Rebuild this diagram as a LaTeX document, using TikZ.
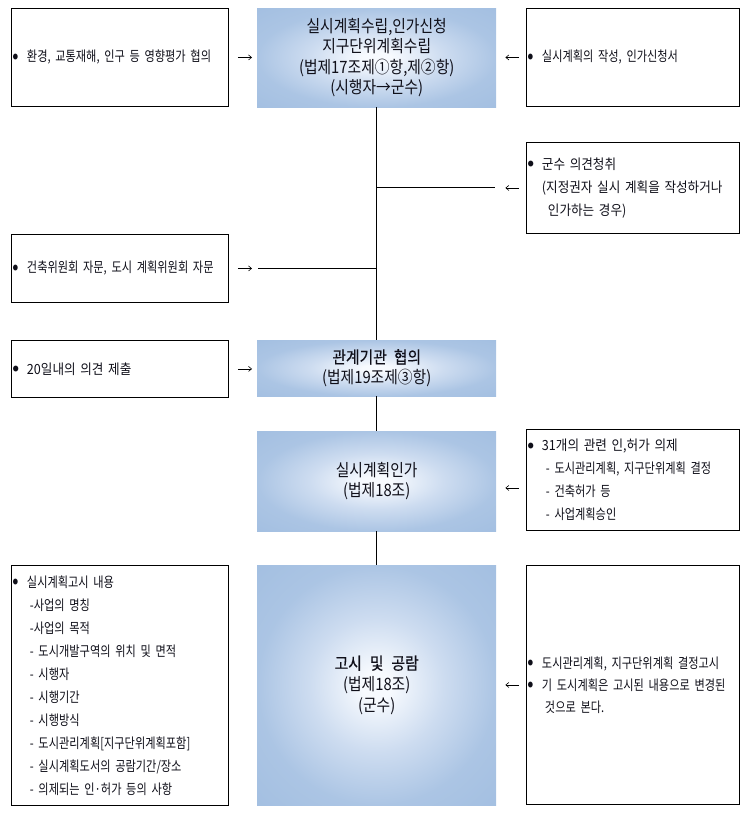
\documentclass[tikz,border=0pt]{standalone}
\usepackage{fontspec}
\usetikzlibrary{calc,arrows.meta}
\newfontfamily\krn[FakeStretch=0.8]{Noto Sans CJK KR}
\newfontfamily\krw[FakeStretch=0.9]{Noto Sans CJK KR}
\newfontfamily\krc[FakeStretch=0.87]{Noto Sans CJK KR}
\newfontfamily\krcb[FakeStretch=0.87,FakeBold=0.5]{Noto Sans CJK KR}
\definecolor{edgeb}{RGB}{163,191,225}
\definecolor{midb}{RGB}{205,220,240}
\definecolor{ctrw}{RGB}{247,250,254}
\definecolor{txt}{RGB}{15,15,25}
\pgfdeclareradialshading{ctrshade}{\pgfpoint{0bp}{0bp}}{color(0bp)=(ctrw); color(3bp)=(ctrw); color(14bp)=(midb); color(25bp)=(edgeb!80!midb); color(36bp)=(edgeb); color(50bp)=(edgeb)}
\newcommand\bul{\makebox[14pt][l]{\raisebox{2.6pt}{\fontsize{6.5}{6.5}\selectfont ●}}}
\begin{document}
\begin{tikzpicture}[x=1pt,y=-1pt,
  sidebox/.style={draw=black, line width=0.9pt, rectangle, anchor=north west,
    inner xsep=1.5pt, inner ysep=0pt, align=left, text=txt,
    font=\krn\fontsize{14}{23}\selectfont},
  lbox/.style={sidebox, text width=214pt},
  rbox/.style={sidebox, text width=210pt},
  ctrbox/.style={rectangle, anchor=north west, inner sep=0pt, shade, shading=ctrshade,
    minimum width=239pt, align=center, text=txt,
    font=\krc\fontsize{17}{20.5}\selectfont},
  conn/.style={line width=1pt},
  garrow/.style={line width=0.6pt, -{Straight Barb[length=3pt,width=5pt]}}]
\useasboundingbox (0,0) rectangle (751,822);

% boxes
\node[lbox, minimum height=98pt] (L1) at (11,8) {\mbox{\bul 환경, 교통재해, 인구 등 영향평가 협의}};
\node[ctrbox, minimum height=99pt] (C1) at (257,8) {실시계획수립,인가신청\\지구단위계획수립\\(법제17조제①항,제②항)\\(시행자→군수)};
\node[rbox, minimum height=98pt] (R1) at (526,8) {\mbox{\bul 실시계획의 작성, 인가신청서}};

\node[rbox, minimum height=91pt, font=\krw\fontsize{14}{23}\selectfont] (R2) at (526,142)
  {\mbox{\bul 군수 의견청취}\\\mbox{\hspace*{14pt}(지정권자 실시 계획을 작성하거나}\\\mbox{\hspace*{20pt}인가하는 경우)}};

\node[lbox, minimum height=68pt] (L2) at (11,234) {\mbox{\bul 건축위원회 자문, 도시 계획위원회 자문}};

\node[lbox, minimum height=57pt, font=\krw\fontsize{14}{23}\selectfont] (L3) at (11,340) {\mbox{\bul 20일내의 의견 제출}};
\node[ctrbox, minimum height=56pt] (C2) at (257,340) {{\krcb 관계기관\hspace{7pt}협의}\\(법제19조제③항)};

\node[ctrbox, minimum height=100pt] (C3) at (257,431) {실시계획인가\\(법제18조)};
\node[rbox, minimum height=101pt] (R3) at (526,429)
  {\mbox{\krw\bul 31개의 관련 인,허가 의제}\\\mbox{\hspace*{18pt}- 도시관리계획, 지구단위계획 결정}\\\mbox{\hspace*{18pt}- 건축허가 등}\\\mbox{\hspace*{18pt}- 사업계획승인}};

\node[lbox, minimum height=240pt] (L4) at (11,565)
  {\mbox{\bul 실시계획고시 내용}\\
   \mbox{\hspace*{17pt}-사업의 명칭}\\
   \mbox{\hspace*{17pt}-사업의 목적}\\
   \mbox{\hspace*{17pt}- 도시개발구역의 위치 및 면적}\\
   \mbox{\hspace*{17pt}- 시행자}\\
   \mbox{\hspace*{17pt}- 시행기간}\\
   \mbox{\hspace*{17pt}- 시행방식}\\
   \mbox{\hspace*{17pt}- 도시관리계획[지구단위계획포함]}\\
   \mbox{\hspace*{17pt}- 실시계획도서의 공람기간/장소}\\
   \mbox{\hspace*{17pt}- 의제되는 인·허가 등의 사항}};
\node[ctrbox, minimum height=240pt, font=\krc\fontsize{17}{21}\selectfont] (C4) at (257,565) {{\krcb 고시\hspace{8pt}및\hspace{8pt}공람}\\(법제18조)\\(군수)};
\node[rbox, minimum height=239pt, font=\krn\fontsize{14}{22}\selectfont] (R4) at (526,565)
  {\mbox{\bul 도시관리계획, 지구단위계획 결정고시}\\\mbox{\bul 기 도시계획은 고시된 내용으로 변경된}\\\mbox{\hspace*{17pt}것으로 본다.}};

% junctions
\coordinate (J1) at (C1.south |- R2.west);
\coordinate (J2) at (C1.south |- L2.east);

% main vertical line
\draw[conn] (C1.south) -- (C2.north);
\draw[conn] (C2.south) -- (C3.north);
\draw[conn] (C3.south) -- (C4.north);

% side lines
\draw[conn] (J1) -- ($(R2.west -| C1.east)+(-1,0)$);
\draw[conn] ($(L2.east -| C1.west)+(1,0)$) -- (J2);

% small arrows
\draw[garrow] ($(L1.east)+(9,0)$) -- ($(L1.east -| C1.west)+(-5,0)$);
\draw[garrow] ($(R1.west)+(-7,0)$) -- ($(R1.west -| C1.east)+(9,0)$);
\draw[garrow] ($(R2.west)+(-7,0)$) -- ($(R2.west -| C1.east)+(9,0)$);
\draw[garrow] ($(L2.east)+(9,0)$) -- ($(L2.east -| C1.west)+(-5,0)$);
\draw[garrow] ($(L3.east)+(9,0)$) -- ($(L3.east -| C2.west)+(-5,0)$);
\draw[garrow] ($(R3.west)+(-7,8)$) -- ($(R3.west -| C3.east)+(9,8)$);
\draw[garrow] ($(R4.west)+(-7,0)$) -- ($(R4.west -| C4.east)+(9,0)$);
\end{tikzpicture}
\end{document}
